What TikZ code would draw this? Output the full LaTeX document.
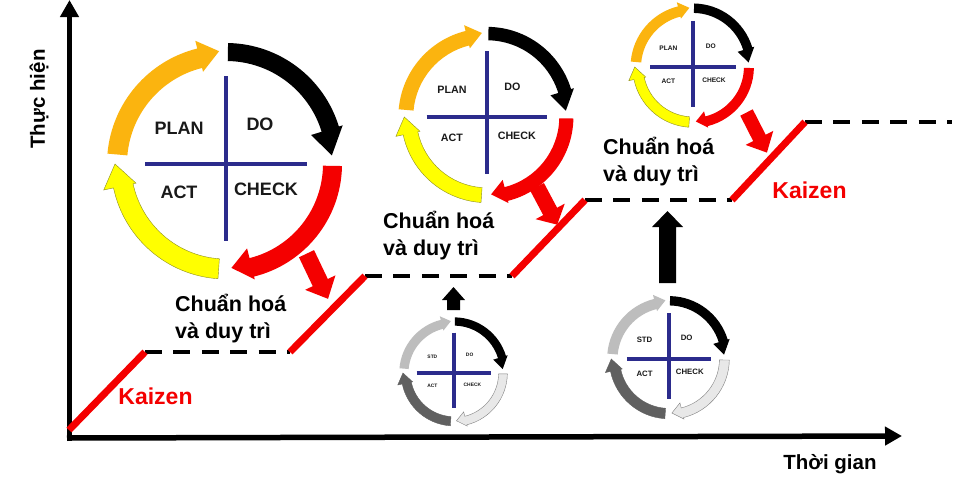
\documentclass[tikz,border=0pt]{standalone}
\usepackage{fontspec}
\setmainfont{Liberation Sans}
\usetikzlibrary{arrows.meta}
\definecolor{cnavy}{HTML}{2B2B8C}
\definecolor{corange}{HTML}{FBB40F}
\definecolor{cred}{HTML}{F40000}
\definecolor{cyellow}{HTML}{FFFF00}
\definecolor{cyline}{HTML}{8C8C20}
\definecolor{lgray}{HTML}{BDBDBD}
\definecolor{dgray}{HTML}{606060}
\definecolor{pgray}{HTML}{E8E8E8}
\tikzset{
  axisline/.style={line width=5.5pt,-{Triangle[length=17pt,width=18pt]}},
  risestep/.style={draw=cred,line width=7pt},
  flatstep/.style={draw=black,line width=4pt,dash pattern=on 17pt off 11.4pt},
  crossbar/.style={draw=cnavy,line width=3.5pt},
  cyclabel/.style={font=\bfseries,inner sep=0pt,text=black!90},
  caption/.style={font=\fontsize{21.5}{27}\selectfont\bfseries,align=left,inner sep=0pt,anchor=north west},
  kaizen/.style={font=\fontsize{23}{27}\selectfont\bfseries,text=cred,inner sep=0pt},
  axislabel/.style={font=\fontsize{20.5}{24}\selectfont\bfseries,inner sep=0pt},
}
% #1 start #2 head base #3 tip #4 rOut #5 rIn #6 wingOut #7 wingIn #8 tipR
\newcommand{\arcarrow}[8]{%
  (#1:#4) arc[start angle=#1,end angle=#2,radius=#4] -- (#2:#6) -- (#3:#8) -- (#2:#7) -- (#2:#5)
  arc[start angle=#2,end angle=#1,radius=#5] -- cycle}
% #1 name #2 cx #3 cy #4 scale #5 font #6 first label #7 orange fill #8 red fill #9 yellow fill
\newcommand{\pdca}[9]{%
 \begin{scope}[shift={(#2,-#3)},scale=#4]
  \fill[corange,#7] \arcarrow{175}{104}{93.5}{119}{99}{127}{95}{113};
  \begin{scope}[shift={(0,3)}]
   \fill[black] \arcarrow{89}{17}{3}{118}{100}{122}{89}{106};
  \end{scope}
  \path[fill=cred,#8] \arcarrow{-1}{-76}{-87}{116}{97}{119}{87}{104};
  \path[fill=cyellow,draw=cyline,line width=.4pt,#9] \arcarrow{-94}{-168}{-180}{115}{95}{125}{92}{111};
  \coordinate (#1l) at (-81,0); \coordinate (#1r) at (81,0);
  \coordinate (#1t) at (0,88);  \coordinate (#1b) at (0,-77);
  \draw[crossbar] (#1l) -- (#1r);
  \draw[crossbar] (#1t) -- (#1b);
  \node[cyclabel,font=\fontsize{#5}{#5}\selectfont\bfseries] (#1a) at (-47,36) {#6};
  \node[cyclabel,font=\fontsize{#5}{#5}\selectfont\bfseries] (#1d) at (34,40) {DO};
  \node[cyclabel,font=\fontsize{#5}{#5}\selectfont\bfseries] (#1c) at (-47,-28) {ACT};
  \node[cyclabel,font=\fontsize{#5}{#5}\selectfont\bfseries] (#1e) at (40,-25) {CHECK};
 \end{scope}}
% block arrow: #1 x #2 y #3 angle #4 length #5 shaft #6 head width #7 head length #8 colour
\newcommand{\blockarrow}[8]{%
 \fill[#8,shift={(#1,-#2)},rotate=#3] (0,{-#5/2}) -- ({#4-#7},{-#5/2}) -- ({#4-#7},{-#6/2}) -- (#4,0)
   -- ({#4-#7},{#6/2}) -- ({#4-#7},{#5/2}) -- (0,{#5/2}) -- cycle;}
\begin{document}
\begin{tikzpicture}[x=1pt,y=1pt]
\useasboundingbox (0,0) rectangle (960,-483);
\fill[white] (0,0) rectangle (960,-483);
% axes
\coordinate (orgx) at (67,-438);
\coordinate (orgy) at (69.5,-441);
\coordinate (ytop) at (69.5,0);
\coordinate (xend) at (902,-436);
\draw[axisline] (orgy) -- (ytop);
\draw[axisline] (orgx) -- (xend);
% staircase
\coordinate (p0) at (69,-430); \coordinate (p1) at (145,-352);
\coordinate (p2) at (290,-352); \coordinate (p3) at (365,-276);
\coordinate (p4) at (512,-276); \coordinate (p5) at (585,-200);
\coordinate (p6) at (732,-200); \coordinate (p7) at (805,-122);
\coordinate (p8) at (952,-122);
\draw[flatstep] (p1) -- (p2);
\draw[flatstep] (p3) -- (p4);
\draw[flatstep] (p5) -- (p6);
\draw[flatstep] (p7) -- (p8);
\draw[risestep] (p0) -- (p1);
\draw[risestep] (p2) -- (p3);
\draw[risestep] (p4) -- (p5);
\draw[risestep] (p6) -- (p7);
% cycles
\pdca{big}{226}{164}{1}{18}{PLAN}{}{}{}
\pdca{mid}{487}{117}{.745}{10.7}{PLAN}{}{}{}
\pdca{top}{693}{67}{.525}{6.6}{PLAN}{}{}{}
\pdca{low}{454}{373}{.46}{4.9}{STD}{lgray}{fill=pgray,draw=gray,line width=.4pt}{fill=dgray,draw=dgray}
\pdca{lor}{669}{359}{.52}{7.8}{STD}{lgray}{fill=pgray,draw=gray,line width=.4pt}{fill=dgray,draw=dgray}
% block arrows
\blockarrow{306.5}{253.7}{-64.5}{50}{16.7}{33.6}{18}{cred}
\blockarrow{537}{186.7}{-62}{43}{15.7}{33}{15}{cred}
\blockarrow{746.5}{112.5}{-63}{45}{14}{31}{16.5}{cred}
\blockarrow{453.5}{310}{90}{23}{13}{23}{13}{black}
\blockarrow{667.5}{283}{90}{72}{17}{31}{16}{black}
% labels
\node[caption] (c1) at (175,-294) {Chuẩn hoá\\và duy trì};
\node[caption] (c2) at (383,-211) {Chuẩn hoá\\và duy trì};
\node[caption] (c3) at (603,-137) {Chuẩn hoá\\và duy trì};
\node[kaizen] (k1) at (155.5,-396) {Kaizen};
\node[kaizen] (k2) at (809.5,-190) {Kaizen};
\node[axislabel,rotate=90] (yl) at (39,-99) {Thực hiện};
\node[axislabel] (xl) at (830,-464) {Thời gian};
\end{tikzpicture}
\end{document}
